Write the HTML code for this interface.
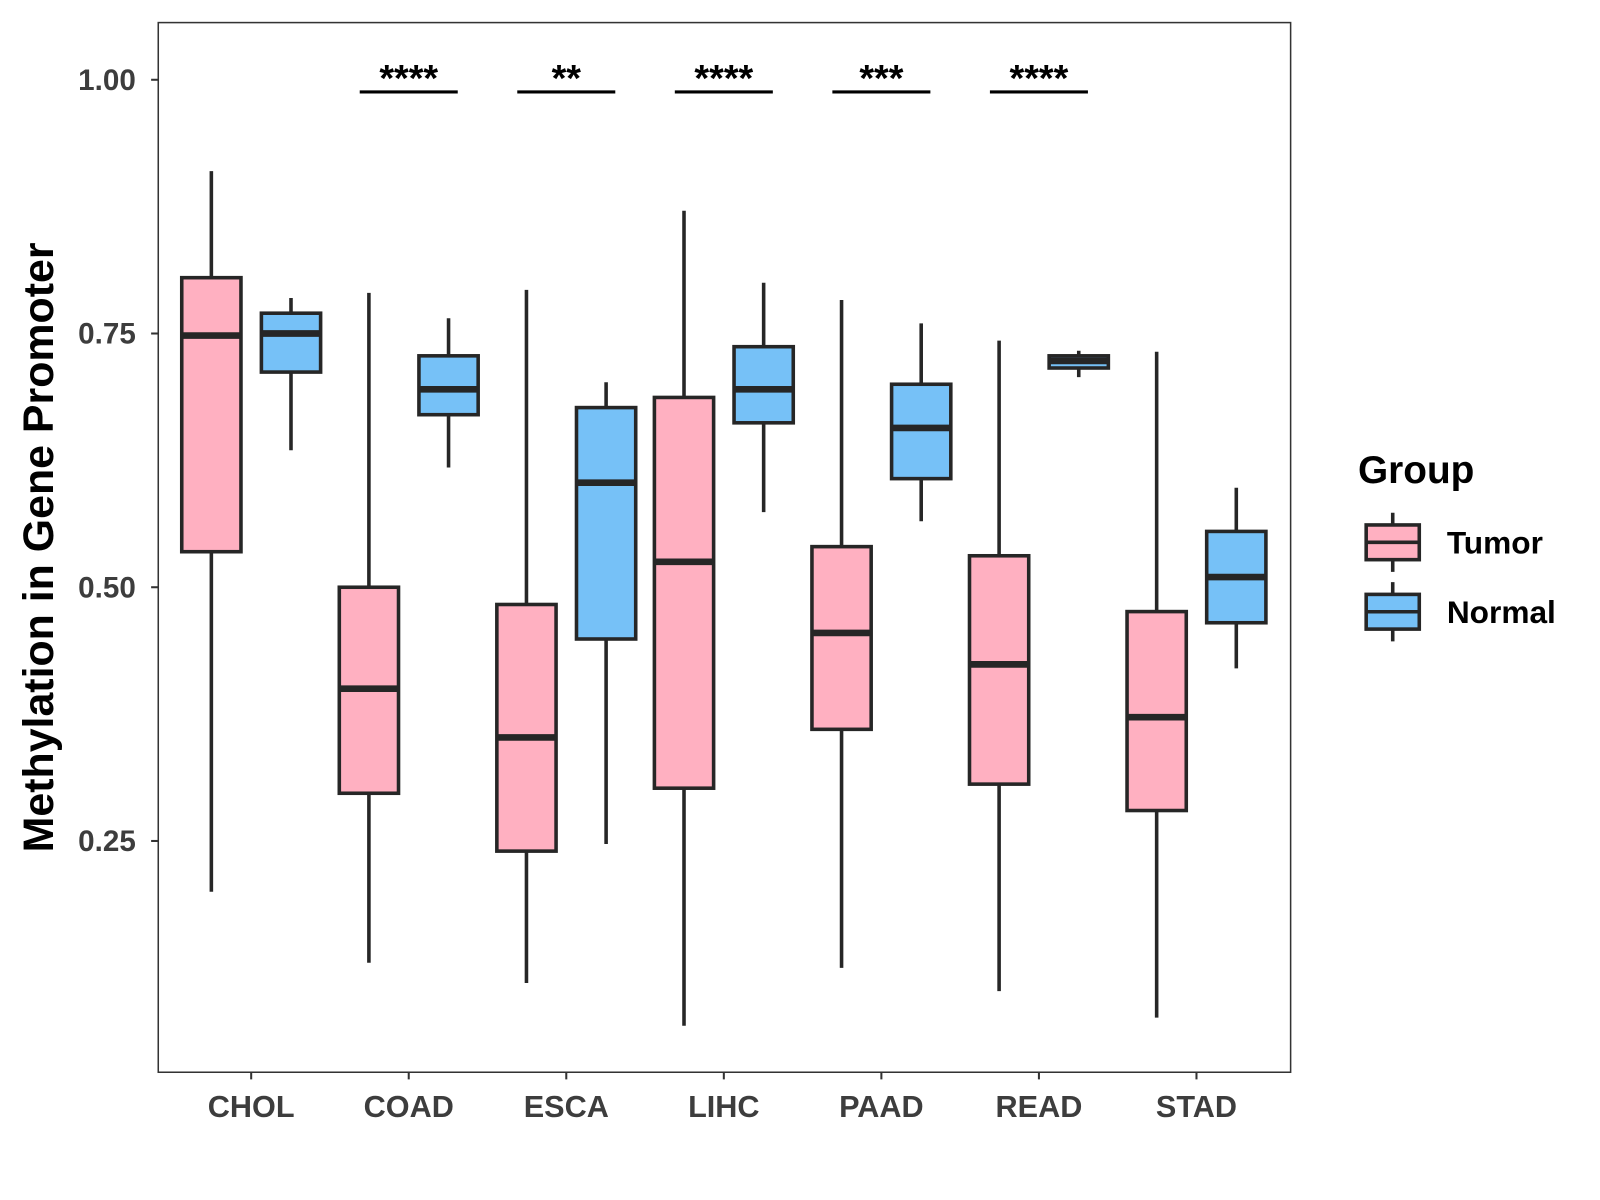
<!DOCTYPE html>
<html><head><meta charset="utf-8"><style>html,body{margin:0;padding:0;background:#fff}svg{display:block}text{font-family:"Liberation Sans",Arial,sans-serif;font-weight:bold}</style></head>
<body>
<svg id="chart" width="1600" height="1200" viewBox="0 0 1567 1175" xmlns="http://www.w3.org/2000/svg">
<rect x="155" y="22" width="1109" height="1028" fill="#fff" stroke="#333" stroke-width="1.5"/>
<g id="marks"></g>
<text x="52" y="536" font-size="42" text-anchor="middle" transform="rotate(-90 52 536)" fill="#000">Methylation in Gene Promoter</text>
<g>
<text x="1330" y="473" font-size="38" fill="#000">Group</text>
<g>
<line x1="1364" y1="502" x2="1364" y2="560" stroke="#262626" stroke-width="3.5"/>
<rect x="1338" y="514" width="52" height="34" fill="#FFB0C1" stroke="#262626" stroke-width="3.5"/>
<line x1="1338" y1="531" x2="1390" y2="531" stroke="#262626" stroke-width="3.5"/>
<text x="1417" y="542" font-size="31" fill="#000">Tumor</text></g>
<g>
<line x1="1364" y1="570" x2="1364" y2="628" stroke="#262626" stroke-width="3.5"/>
<rect x="1338" y="582" width="52" height="34" fill="#76C1F7" stroke="#262626" stroke-width="3.5"/>
<line x1="1338" y1="599" x2="1390" y2="599" stroke="#262626" stroke-width="3.5"/>
<text x="1417" y="610" font-size="31" fill="#000">Normal</text></g>
</g>
</svg>
<script>
const categories=["CHOL","COAD","ESCA","LIHC","PAAD","READ","STAD"];
// [lowerWhisker, q1, median, q3, upperWhisker]
const tumorStats=[[0.20,0.535,0.748,0.805,0.91],[0.13,0.297,0.40,0.50,0.79],[0.11,0.24,0.352,0.483,0.793],[0.068,0.302,0.525,0.687,0.871],[0.125,0.36,0.455,0.54,0.783],[0.102,0.306,0.424,0.531,0.743],[0.076,0.28,0.372,0.476,0.732]];
const normalStats=[[0.635,0.712,0.75,0.77,0.785],[0.618,0.67,0.695,0.728,0.765],[0.247,0.449,0.603,0.677,0.702],[0.574,0.662,0.695,0.737,0.80],[0.565,0.607,0.657,0.70,0.76],[0.707,0.716,0.723,0.728,0.733],[0.42,0.465,0.51,0.555,0.598]];
const signif=["","****","**","****","***","****",""];
const yTicks=[0.25,0.50,0.75,1.00];
const yTickLabels=["0.25","0.50","0.75","1.00"];
const sigLevel=0.988;

const NS="http://www.w3.org/2000/svg";
const g=document.getElementById("marks");
function y(v){return 78+(1-v)*994;}
function x(i){return 246+i*154.3;}
function mk(tag,attrs,parent){const e=document.createElementNS(NS,tag);for(const k in attrs)e.setAttribute(k,attrs[k]);(parent||g).appendChild(e);return e;}
const ink="#262626";
yTicks.forEach((t,i)=>{
  const l=mk("line",{x1:148,x2:155,y1:y(t),y2:y(t),stroke:"#333","stroke-width":2});
  
  
  const tx=mk("text",{x:133,y:y(t)+10,"font-size":29,"text-anchor":"end",fill:"#3d3d3d"});
  tx.textContent=yTickLabels[i];
  
  
});
categories.forEach((c,i)=>{
  const l=mk("line",{x1:x(i),x2:x(i),y1:1050,y2:1057,stroke:"#333","stroke-width":2});
  
  
  const tx=mk("text",{x:x(i),y:1094,"font-size":30,"text-anchor":"middle",fill:"#3d3d3d"});
  tx.textContent=c;
  
  
});
function box(cx,s,fill,name){
  const grp=mk("g",{});
  
  
  mk("line",{x1:cx,x2:cx,y1:y(s[4]),y2:y(s[0]),stroke:ink,"stroke-width":3.5},grp);
  mk("rect",{x:cx-29,y:y(s[3]),width:58,height:y(s[1])-y(s[3]),fill:fill,stroke:ink,"stroke-width":3.5},grp);
  mk("line",{x1:cx-29,x2:cx+29,y1:y(s[2]),y2:y(s[2]),stroke:ink,"stroke-width":6.5},grp);
}
categories.forEach((c,i)=>{
  box(x(i)-39,tumorStats[i],"#FFB0C1","box-tumor-"+c.toLowerCase());
  box(x(i)+39,normalStats[i],"#76C1F7","box-normal-"+c.toLowerCase());
  if(signif[i]){
    const l=mk("line",{x1:x(i)-48,x2:x(i)+48,y1:y(sigLevel),y2:y(sigLevel),stroke:"#000","stroke-width":3});
    
    
    const t=mk("text",{x:x(i),y:y(sigLevel)-1,"font-size":37,"text-anchor":"middle",fill:"#000"});
    t.textContent=signif[i];
    
    
  }
});
</script>
</body></html>
